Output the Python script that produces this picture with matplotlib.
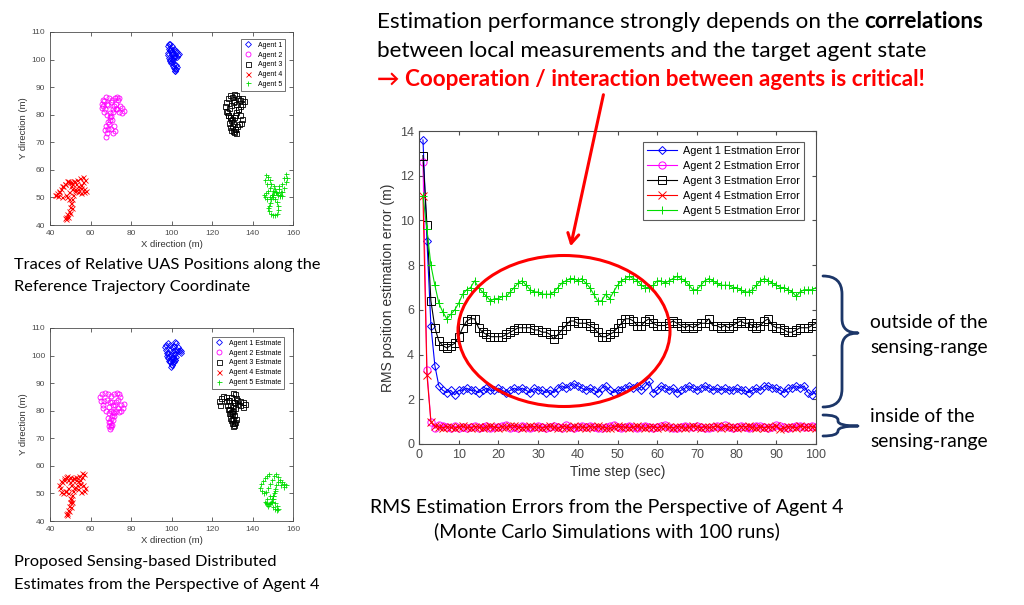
import numpy as np
import matplotlib
matplotlib.use('Agg')
import matplotlib.pyplot as plt
from matplotlib.patches import Ellipse, FancyArrowPatch, PathPatch
from matplotlib.path import Path

W, H = 1024, 605

# ---------------- data: RMS errors (Agent 4 perspective) ----------------
time_steps = np.arange(1, 101)

err_a1 = [13.6, 9.1, 5.3, 3.5, 2.6, 2.4, 2.3, 2.4, 2.2, 2.4,
          2.4, 2.5, 2.4, 2.4, 2.3, 2.4, 2.5, 2.4, 2.4, 2.5,
          2.4, 2.3, 2.4, 2.5, 2.4, 2.5, 2.4, 2.3, 2.5, 2.4,
          2.4, 2.3, 2.4, 2.3, 2.5, 2.6, 2.5, 2.6, 2.7, 2.6,
          2.5, 2.4, 2.5, 2.4, 2.3, 2.5, 2.6, 2.4, 2.3, 2.4,
          2.4, 2.5, 2.6, 2.5, 2.6, 2.4, 2.6, 2.8, 2.3, 2.4,
          2.6, 2.5, 2.4, 2.5, 2.3, 2.4, 2.5, 2.6, 2.5, 2.4,
          2.5, 2.6, 2.5, 2.4, 2.5, 2.4, 2.5, 2.4, 2.4, 2.5,
          2.4, 2.4, 2.3, 2.4, 2.5, 2.4, 2.6, 2.6, 2.5, 2.5,
          2.4, 2.3, 2.5, 2.5, 2.6, 2.5, 2.6, 2.3, 2.2, 2.4]

err_a2 = [12.6, 3.3, 1.0, 0.7, 0.85, 0.8, 0.75, 0.7, 0.8, 0.72,
          0.78, 0.7, 0.75, 0.8, 0.72, 0.76, 0.82, 0.7, 0.78, 0.74,
          0.8, 0.85, 0.72, 0.76, 0.7, 0.8, 0.78, 0.72, 0.75, 0.82,
          0.76, 0.7, 0.78, 0.8, 0.74, 0.72, 0.85, 0.78, 0.7, 0.76,
          0.8, 0.74, 0.82, 0.78, 0.72, 0.7, 0.76, 0.8, 0.84, 0.75,
          0.72, 0.78, 0.8, 0.74, 0.7, 0.76, 0.82, 0.78, 0.72, 0.75,
          0.8, 0.84, 0.76, 0.72, 0.7, 0.78, 0.8, 0.74, 0.76, 0.82,
          0.78, 0.72, 0.7, 0.76, 0.8, 0.78, 0.85, 0.74, 0.72, 0.76,
          0.8, 0.78, 0.7, 0.74, 0.82, 0.8, 0.76, 0.72, 0.78, 0.84,
          0.8, 0.74, 0.7, 0.76, 0.8, 0.82, 0.78, 0.74, 0.8, 0.76]

err_a3 = [12.9, 9.8, 6.4, 5.2, 4.6, 4.4, 4.3, 4.4, 4.5, 4.8,
          5.2, 5.5, 5.6, 5.6, 5.2, 5.0, 4.9, 4.8, 4.8, 4.8,
          4.8, 4.9, 5.0, 5.1, 5.2, 5.2, 5.2, 5.2, 5.1, 5.1,
          5.0, 5.0, 4.9, 4.7, 4.9, 5.1, 5.3, 5.5, 5.5, 5.4,
          5.4, 5.4, 5.3, 5.2, 5.0, 4.8, 4.8, 4.9, 5.0, 5.2,
          5.4, 5.6, 5.6, 5.5, 5.3, 5.3, 5.5, 5.6, 5.4, 5.3,
          5.3, 5.3, 5.4, 5.5, 5.4, 5.3, 5.2, 5.3, 5.2, 5.3,
          5.4, 5.4, 5.6, 5.3, 5.3, 5.2, 5.3, 5.2, 5.3, 5.4,
          5.5, 5.4, 5.4, 5.3, 5.2, 5.3, 5.5, 5.6, 5.3, 5.2,
          5.2, 5.1, 5.0, 5.0, 5.1, 5.2, 5.2, 5.2, 5.3, 5.4]

err_a4 = [11.1, 3.1, 1.0, 0.8, 0.75, 0.72, 0.78, 0.74, 0.7, 0.76,
          0.8, 0.74, 0.72, 0.78, 0.76, 0.7, 0.74, 0.8, 0.76, 0.72,
          0.78, 0.74, 0.8, 0.82, 0.76, 0.72, 0.74, 0.8, 0.78, 0.74,
          0.72, 0.76, 0.8, 0.74, 0.7, 0.78, 0.76, 0.72, 0.8, 0.74,
          0.76, 0.72, 0.78, 0.74, 0.8, 0.76, 0.72, 0.7, 0.76, 0.8,
          0.78, 0.74, 0.72, 0.76, 0.8, 0.74, 0.7, 0.76, 0.78, 0.72,
          0.76, 0.8, 0.74, 0.72, 0.78, 0.76, 0.7, 0.74, 0.8, 0.76,
          0.72, 0.78, 0.74, 0.76, 0.8, 0.72, 0.82, 0.76, 0.74, 0.72,
          0.78, 0.76, 0.8, 0.74, 0.7, 0.76, 0.72, 0.78, 0.74, 0.8,
          0.66, 0.72, 0.78, 0.76, 0.72, 0.8, 0.76, 0.74, 0.78, 0.72]

err_a5 = [11.1, 9.6, 8.0, 7.1, 6.3, 5.9, 5.6, 5.8, 6.0, 6.3,
          6.7, 6.9, 7.0, 7.3, 7.0, 6.8, 6.6, 6.4, 6.5, 6.5,
          6.6, 6.6, 6.8, 7.0, 7.2, 7.3, 7.1, 6.9, 6.8, 6.8,
          6.7, 6.7, 6.7, 6.8, 7.0, 7.2, 7.3, 7.4, 7.4, 7.3,
          7.4, 7.2, 7.0, 6.7, 6.4, 6.4, 6.7, 6.5, 6.8, 7.1,
          7.3, 7.4, 7.5, 7.4, 7.3, 7.1, 7.0, 7.0, 7.1, 7.3,
          7.3, 7.2, 7.3, 7.4, 7.5, 7.4, 7.3, 7.1, 6.9, 6.9,
          7.1, 7.3, 7.4, 7.3, 7.2, 7.1, 7.1, 7.1, 7.0, 7.0,
          6.9, 6.8, 6.8, 6.9, 7.1, 7.3, 7.4, 7.3, 7.2, 7.1,
          7.0, 7.0, 6.9, 6.8, 6.6, 6.8, 6.9, 6.9, 6.9, 7.0]

# ---------------- data: relative UAS position traces ----------------
true_a1_x = [100, 99.5, 99, 98.5, 98.8, 99.5, 100.2, 101, 101.5, 102, 102.8, 103.5, 103, 102.5, 101.8, 101, 100.5, 100, 99.8, 99.2,
             98.5, 98.2, 98.6, 99.4, 100.3, 101.2, 102, 102.6, 101.9, 101.5, 101.8, 102.2, 101.4, 100.6, 99.9, 99.5, 100.1, 100.8, 101.3, 100.9]
true_a1_y = [102, 103, 104, 105, 105.8, 105.5, 104.8, 104, 103.5, 103, 102.6, 102.2, 101.5, 101, 100.8, 101.2, 102, 103, 104, 103.5,
             102.5, 101.5, 100.5, 99.8, 99, 98.5, 98, 97.2, 96.5, 96, 95.8, 96.4, 97, 97.8, 98.6, 99.5, 100.2, 100, 101, 102.5]
true_a2_x = [68, 66.5, 65.5, 65.8, 66.8, 68, 69.5, 71, 72.5, 73.5, 74.2, 73.2, 72, 70.5, 69, 67.5, 66.2, 66, 67, 68.5, 70, 71.5, 73,
             74.5, 75.8, 76.5, 75.5, 74, 72.5, 71, 70, 69.5, 69, 68.5, 68, 67.5, 67.2, 67.8, 68.8, 69.5, 70.5, 71.5, 72, 71, 70]
true_a2_y = [84, 85, 84, 82.5, 81, 80, 80.5, 82, 84, 85.5, 86, 86.5, 86, 85.5, 86, 86.5, 85.5, 83, 82, 83.5, 84.5, 83, 82,
             83, 82.5, 81.5, 80.5, 81, 82, 81, 79.5, 78, 76.5, 75, 73.5, 72, 74.5, 76, 77.5, 79, 78, 76, 74, 73.5, 75]
true_a3_x = [128, 127, 126.5, 127, 128, 129, 130, 131, 132, 133, 134, 135, 135.8, 135, 134, 133, 132, 131.5, 131, 130, 129, 128, 127.5,
             128.5, 129.5, 130.5, 131, 132, 133, 134, 135, 134.5, 133.5, 132.5, 131.5, 130.5, 129.5, 128.8, 128.5, 129.5, 130.5, 131.5, 132, 131, 130, 129]
true_a3_y = [80, 81.5, 83, 84.5, 86, 87, 86.5, 87.5, 87, 86, 85.5, 86, 85, 84, 83, 82, 81, 80, 79, 78.5, 79, 80, 81,
             82.5, 83.5, 84.5, 85, 84, 82, 80, 78.5, 77, 76.5, 76, 75, 74, 74.5, 75.5, 77, 78, 77, 75, 73.5, 73.8, 76, 79]
true_a4_x = [43, 44.5, 46, 47.5, 49, 50.5, 52, 53.5, 55, 56.5, 57.5, 56.5, 55.5, 54, 53, 52, 51, 50.5, 49.5, 48.5, 47.5, 46.5, 45.5, 44.5, 43.5, 42.5, 44, 46,
             48, 49.5, 51, 52.5, 54, 55.5, 57, 58, 57, 55.5, 54, 52.5, 51.5, 51, 50.5, 50, 49.5, 48.5, 48, 47.5, 48, 49, 50, 51, 50.5, 49.5, 48.5]
true_a4_y = [51, 52.5, 54, 55, 56, 55.5, 56, 56.5, 57, 57.5, 56.5, 55.5, 54.5, 54, 55, 56, 55, 54, 55.5, 56, 55, 54, 53, 52, 51.5, 51, 50.5, 50,
             51, 52, 53, 52.5, 53, 53.5, 53, 52.5, 52, 51.5, 52, 53, 51, 49.5, 48, 46.5, 45, 44, 43, 42.5, 42, 43, 44.5, 46, 48, 49.5, 50]
true_a5_x = [147, 146, 146.5, 147.5, 148.5, 149, 148.5, 147.5, 146.5, 145.5, 146, 147, 148.5, 150, 151.5, 153, 154.5, 155.5, 156.5, 157, 156.5, 155.5, 154.5, 153.5, 152.5, 151.5,
             151, 150.5, 150, 149.5, 149, 148.5, 148, 147.5, 148, 149, 150, 151, 152, 152.5, 152.5, 152, 151, 150, 149.5, 150.5, 152, 153.5, 154.5, 154, 153]
true_a5_y = [55, 56.5, 58, 57.5, 56.5, 55, 53.5, 52.5, 51.5, 51, 50, 49.5, 50, 51, 52, 53, 55, 57, 58.5, 57, 55.5, 53.5, 52, 50.5, 51, 52,
             53, 54, 52.5, 51, 49.5, 48, 47, 46, 45, 44, 43.5, 43.5, 44, 45.5, 47, 48.5, 49.5, 50, 51, 52, 51.5, 51, 50.5, 52, 54]

est_a1_x = [99, 98, 97.5, 97, 97.5, 98.5, 99.5, 100, 101, 101.5, 102, 103, 104, 104.8, 104.5, 103.5, 102.5, 101.8, 101, 100.5,
            100, 99.5, 99, 98.5, 98, 98.5, 99.5, 100.5, 101.5, 102, 101.5, 100.8, 100, 99.8, 100.3, 101, 101.6, 101, 100.2, 99.5]
est_a1_y = [100, 101, 102, 103, 104, 104.5, 104, 103, 103.5, 105, 104.5, 103, 102, 101.5, 101, 101.5, 102, 101.5, 100.5, 99.5,
            98.5, 97.5, 98, 99, 100, 101, 102, 101.5, 100.5, 99.5, 98.5, 97.5, 96.5, 95.8, 96.5, 97.5, 98.5, 99.2, 99, 98.2]
est_a2_x = [66, 65, 64.5, 65.5, 67, 68.5, 70, 71.5, 73, 74, 74.5, 73.5, 72.5, 71, 69.5, 68, 66.5, 66, 67.5, 69, 70.5, 72, 73.5,
            75, 76.5, 76, 75, 74, 72.5, 71.5, 70.5, 70, 69.5, 69, 69.5, 70, 70.5, 71, 71.5, 71, 70, 69, 68.5, 69, 70]
est_a2_y = [82, 83.5, 85, 86, 86.5, 86, 85.5, 86, 86.5, 86, 85, 84, 83, 82, 83, 84, 83.5, 81, 80, 81.5, 83, 82, 81,
            82, 82.5, 81, 80, 79.5, 80, 79, 78, 77, 76, 74.5, 73.5, 74, 75, 76.5, 78, 79.5, 80, 79, 77.5, 76, 75]
est_a3_x = [124, 123.5, 124.5, 125.5, 127, 128.5, 129.5, 130.5, 131.5, 132, 131, 130.5, 131, 132.5, 134, 135.5, 136.5, 135.5, 134, 132.5, 131.5, 130.5,
            129.5, 128.5, 127.5, 127, 128, 129, 130, 131, 132, 131.5, 131, 130.5, 130, 129.5, 129, 128.5, 128, 129, 130, 131, 130.5, 130]
est_a3_y = [82, 83.5, 84.5, 85.5, 85, 84, 85, 86.5, 86, 84.5, 83, 82, 83, 84, 83.5, 83, 82.5, 81.5, 82, 82.5, 81, 80,
            79.5, 80.5, 82, 83.5, 84, 82, 80, 78.5, 77, 76, 75, 74.5, 75.5, 76.5, 77.5, 79, 80.5, 79, 77, 75.5, 77, 79]
est_a4_x = [44.5, 45.5, 47, 48.5, 50, 51.5, 53, 54.5, 56, 57, 56, 55, 54, 53, 52, 51, 50, 49, 48, 47, 46, 45, 45.5, 46.5, 47.5, 49,
            50.5, 52, 53.5, 55, 56.5, 57.5, 57, 55.5, 54, 52.5, 51.5, 51, 50.5, 50, 49.5, 49, 48.5, 48, 48.5, 49.5, 50.5, 51, 50, 49, 48]
est_a4_y = [53, 54.5, 55.5, 56.5, 56, 55.5, 56, 56.5, 57.5, 57, 56, 55, 54.5, 55, 55.5, 55, 54, 55, 56, 55, 54, 52, 50.5, 50, 51, 52,
            53, 52, 53, 53.5, 53, 52, 51, 50.5, 51.5, 52.5, 51, 49.5, 48, 47, 45.5, 44, 43, 42.5, 42, 43.5, 45, 47, 48.5, 50, 51]
est_a5_x = [148, 147, 146, 145, 144, 143.5, 144.5, 145.5, 146.5, 147.5, 148.5, 149.5, 150.5, 151.5, 152.5, 153.5, 154.5, 155.5, 156.5, 155.5, 154, 152.5, 151.5,
            151, 150.5, 150, 149.5, 149, 148.5, 148, 147.5, 147, 146.5, 146, 147, 148.5, 150, 151, 152, 152.5, 152, 151, 150, 149.5, 150, 151]
est_a5_y = [57, 56.5, 55.5, 54.5, 53.5, 52, 51, 50, 50.5, 52, 53.5, 55, 56.5, 57, 56, 55, 54, 53.5, 53, 52.5, 53, 54, 53,
            51.5, 50, 49, 48, 47, 46.5, 46, 45.5, 46, 46.5, 47, 48, 49, 48, 46.5, 45.5, 44.5, 44, 44.5, 45, 47, 49, 51]

agent_styles = [('D', '#0000ff'), ('o', '#ff00ff'), ('s', 'black'), ('x', '#ff0000'), ('+', '#00dd00')]
axis_grey = '#4d4d4d'
slide_font = ['Lato', 'DejaVu Sans']
plt.rcParams['font.family'] = ['Liberation Sans', 'DejaVu Sans']

fig = plt.figure(figsize=(W / 100, H / 100), dpi=100)
fig.patch.set_facecolor('white')


def box(left, top, right, bottom):
    return [left / W, 1 - bottom / H, (right - left) / W, (bottom - top) / H]


def ftext(x, y, s, **kw):
    kw.setdefault('family', slide_font)
    return fig.text(x / W, 1 - y / H, s, **kw)


def matlab_axes(ax, labelsize, lw):
    ax.tick_params(direction='in', top=True, right=True, labelsize=labelsize,
                   colors=axis_grey, width=lw, length=3)
    for sp in ax.spines.values():
        sp.set_color(axis_grey)
        sp.set_linewidth(lw)


def trace_panel(rect, xs_list, ys_list, labels, anchor):
    ax = fig.add_axes(rect)
    for xs, ys, lab, (mk, c) in zip(xs_list, ys_list, labels, agent_styles):
        ms = 3.0 if mk == 'D' else 3.6
        ax.plot(xs, ys, ls='none', marker=mk, color=c, mfc='none', ms=ms, mew=0.6, label=lab)
    ax.set_xlim(40, 160)
    ax.set_ylim(40, 110)
    ax.set_xticks(range(40, 161, 20))
    ax.set_yticks(range(40, 111, 10))
    matlab_axes(ax, 6, 0.6)
    ax.set_xlabel('X direction (m)', fontsize=6.8, color='#333333', labelpad=2)
    ax.set_ylabel('Y direction (m)', fontsize=6.8, color='#333333', labelpad=2)
    leg = ax.legend(loc='upper right', bbox_to_anchor=anchor, fontsize=5, handlelength=1.2,
                    borderaxespad=0, fancybox=False, labelspacing=0.4, borderpad=0.4, handletextpad=0.8)
    leg.get_frame().set_edgecolor('#333333')
    leg.get_frame().set_linewidth(0.6)
    return ax


trace_panel(box(50, 32, 293, 225),
            [true_a1_x, true_a2_x, true_a3_x, true_a4_x, true_a5_x],
            [true_a1_y, true_a2_y, true_a3_y, true_a4_y, true_a5_y],
            ['Agent 1', 'Agent 2', 'Agent 3', 'Agent 4', 'Agent 5'], (0.967, 0.964))
trace_panel(box(50, 328, 293, 521),
            [est_a1_x, est_a2_x, est_a3_x, est_a4_x, est_a5_x],
            [est_a1_y, est_a2_y, est_a3_y, est_a4_y, est_a5_y],
            ['Agent 1 Estmate', 'Agent 2 Estmate', 'Agent 3 Estmate', 'Agent 4 Estmate', 'Agent 5 Estmate'],
            (0.963, 0.953))

# ---------------- main RMS error chart ----------------
ax = fig.add_axes(box(419, 131, 816, 444))
errors = [err_a1, err_a2, err_a3, err_a4, err_a5]
for i, (err, (mk, c)) in enumerate(zip(errors, agent_styles)):
    ms = 4.5 if mk == 'D' else 5.2
    ax.plot(time_steps, err, '-', marker=mk, color=c, mfc='none', ms=ms, mew=0.7, lw=0.8,
            label=f'Agent {i + 1} Estmation Error')
ax.set_xlim(0, 100)
ax.set_ylim(0, 14)
ax.set_xticks(range(0, 101, 10))
ax.set_yticks(range(0, 15, 2))
matlab_axes(ax, 9, 0.8)
ax.set_xlabel('Time step (sec)', fontsize=10, color='#333333', labelpad=3)
ax.set_ylabel('RMS position estimation error (m)', fontsize=10, color='#333333', labelpad=4)
leg = ax.legend(loc='upper right', bbox_to_anchor=(0.970, 0.965), fontsize=7.8, handlelength=2.8,
                borderaxespad=0, fancybox=False, borderpad=0.4, handletextpad=0.5, labelspacing=0.45)
leg.get_frame().set_edgecolor('#333333')
leg.get_frame().set_linewidth(0.8)

# ---------------- annotations ----------------
fig.add_artist(Ellipse((564 / W, 1 - 331 / H), 212 / W, 151 / H, transform=fig.transFigure,
                       fill=False, edgecolor='#ff0000', lw=2.2))
fig.add_artist(FancyArrowPatch((604 / W, 1 - 92 / H), (570 / W, 1 - 249 / H), transform=fig.transFigure,
                               arrowstyle='->,head_length=7,head_width=4', color='#ff0000', lw=2.2))


def brace(x0, x_spine, x_tip, y_top, y_mid, y_bot, r_end, r_mid):
    pts = [(x0, y_top), (x_spine, y_top), (x_spine, y_top + r_end),
           (x_spine, y_mid - r_mid), (x_spine, y_mid), (x_tip, y_mid),
           (x_spine, y_mid), (x_spine, y_mid + r_mid),
           (x_spine, y_bot - r_end), (x_spine, y_bot), (x0, y_bot)]
    codes = [Path.MOVETO, Path.CURVE3, Path.CURVE3, Path.LINETO, Path.CURVE3, Path.CURVE3,
             Path.CURVE3, Path.CURVE3, Path.LINETO, Path.CURVE3, Path.CURVE3]
    verts = [(x / W, 1 - y / H) for x, y in pts]
    fig.add_artist(PathPatch(Path(verts, codes), transform=fig.transFigure, fill=False,
                             edgecolor='#1c3668', lw=2.0, capstyle='round', joinstyle='round'))


brace(823, 842, 858, 276, 333, 407, 18, 14)
brace(823, 838, 858, 415, 426, 436, 5, 5)

ftext(870, 322, 'outside of the', fontsize=13.9, va='center')
ftext(870, 347, 'sensing-range', fontsize=13.9, va='center')
ftext(870, 416, 'inside of the', fontsize=13.9, va='center')
ftext(870, 441, 'sensing-range', fontsize=13.9, va='center')

t1 = ftext(377, 22, 'Estimation performance strongly depends on the', fontsize=16.2, va='center')
ftext(377, 51, 'between local measurements and the target agent state', fontsize=16.2, va='center')
ftext(377, 80, '\u2192 Cooperation / interaction between agents is critical!', fontsize=16.2,
      va='center', color='#ff0000', weight='bold')
fig.canvas.draw()
x_end = t1.get_window_extent().x1
ftext(x_end + 5, 22, 'correlations', fontsize=16.2, va='center', weight='bold')

ftext(607, 507, 'RMS Estimation Errors from the Perspective of Agent 4', fontsize=14, va='center', ha='center')
ftext(607, 531, '(Monte Carlo Simulations with 100 runs)', fontsize=14, va='center', ha='center')

ftext(14, 265, 'Traces of Relative UAS Positions along the', fontsize=11.8, va='center')
ftext(14, 287, 'Reference Trajectory Coordinate', fontsize=11.8, va='center')
ftext(14, 562, 'Proposed Sensing-based Distributed', fontsize=11.8, va='center')
ftext(14, 585, 'Estimates from the Perspective of Agent 4', fontsize=11.8, va='center')

fig.savefig('out.png', dpi=100, facecolor='white')
